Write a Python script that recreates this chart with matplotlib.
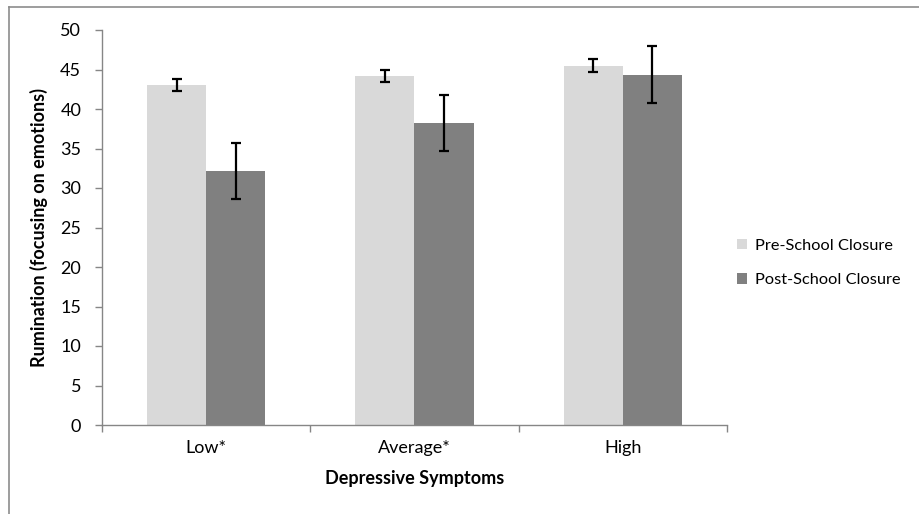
import matplotlib
matplotlib.use("Agg")
import matplotlib.pyplot as plt
from matplotlib.lines import Line2D
from matplotlib.patches import Patch
import numpy as np

categories = ["Low*", "Average*", "High"]
pre_values = [43.0, 44.2, 45.5]
pre_err = [0.75, 0.8, 0.8]
post_values = [32.15, 38.25, 44.35]
post_err = [3.5, 3.55, 3.6]
series_names = ["Pre-School Closure", "Post-School Closure"]
yticks = [0, 5, 10, 15, 20, 25, 30, 35, 40, 45, 50]

plt.rcParams['font.family'] = ['Lato', 'DejaVu Sans']

W, H = 920, 514
fig = plt.figure(figsize=(W / 100, H / 100), dpi=100)
ax = fig.add_axes([102 / W, 1 - 425 / H, (727 - 102) / W, (425 - 30) / H])

x = np.arange(len(categories))
bw = 59 / 208
pre_col = "#d9d9d9"
post_col = "#808080"
ekw = dict(elinewidth=1.6, capthick=1.6, ecolor="black")
ax.bar(x - bw / 2, pre_values, bw, color=pre_col, yerr=pre_err, capsize=3.3,
       error_kw=ekw, label=series_names[0], zorder=2)
ax.bar(x + bw / 2, post_values, bw, color=post_col, yerr=post_err, capsize=3.3,
       error_kw=ekw, label=series_names[1], zorder=2)

fs = 13
ax.set_xlim(-0.5, len(categories) - 0.5)
ax.set_ylim(0, 50)
ax.set_yticks(yticks)
ax.set_xticks(x)
ax.set_xticklabels(categories, fontsize=fs)
ax.set_xticks(np.arange(len(categories) + 1) - 0.5, minor=True)
ax.tick_params(axis="x", which="major", length=0, pad=11)
ax.tick_params(axis="x", which="minor", length=5, color="#868686", width=1)
ax.tick_params(axis="y", length=5, color="#868686", width=1, labelsize=fs, pad=10)
for s in ["top", "right"]:
    ax.spines[s].set_visible(False)
for s in ["left", "bottom"]:
    ax.spines[s].set_color("#868686")
    ax.spines[s].set_linewidth(1)

ax.set_xlabel("Depressive Symptoms", fontsize=fs, fontweight="bold", labelpad=10)
ax.set_ylabel("Rumination (focusing on emotions)", fontsize=fs, fontweight="bold", labelpad=9)

handles = [Patch(facecolor=pre_col, edgecolor="none"), Patch(facecolor=post_col, edgecolor="none")]
fig.legend(handles, series_names, loc="center left", bbox_to_anchor=(722 / W, 1 - 263 / H),
           frameon=False, fontsize=11.8, handlelength=0.6, handleheight=0.6,
           handletextpad=0.5, labelspacing=1.25)

# chart border
fig.add_artist(Line2D([9 / W, 9 / W], [0, 1 - 7 / H], color="#8c8c8c", lw=1.2, transform=fig.transFigure))
fig.add_artist(Line2D([9 / W, 1], [1 - 7 / H, 1 - 7 / H], color="#8c8c8c", lw=1.2, transform=fig.transFigure))

fig.savefig("out.png", dpi=100)
